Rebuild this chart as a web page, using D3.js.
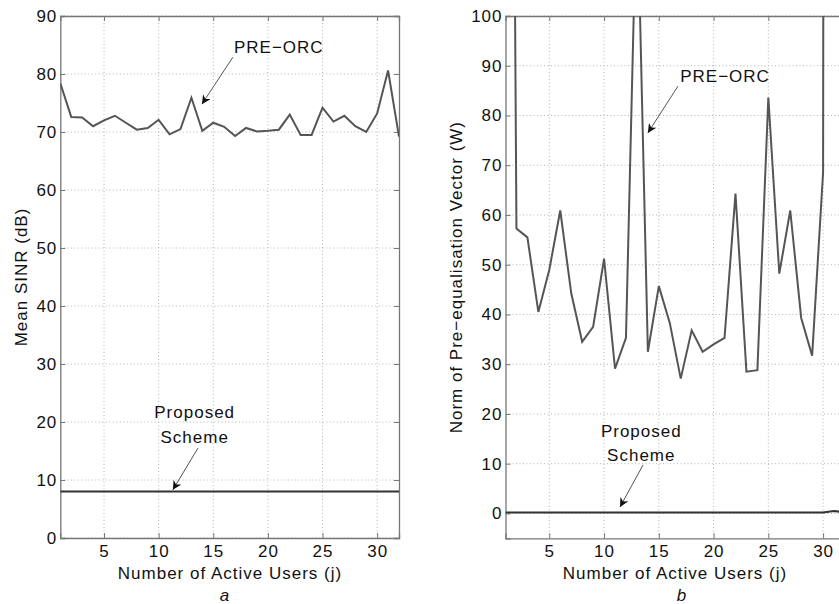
<!DOCTYPE html>
<html>
<head>
<meta charset="utf-8">
<script src="https://cdn.jsdelivr.net/npm/d3@7"></script>
<style>
    body { margin: 0; background: #fff; }
    svg text { font-family: "Liberation Sans", Arial, sans-serif; fill: #111; letter-spacing: 1px; }
</style>
</head>
<body>
<svg id="chart" width="839" height="604"></svg>
<script>
// users j = 1..32
const users = d3.range(1, 33);

// panel a: mean SINR (dB)
const sinrPreOrc = [78.4, 72.6, 72.5, 71.0, 72.0, 72.8, 71.6, 70.4, 70.7, 72.1,
    69.6, 70.5, 75.9, 70.2, 71.6, 70.9, 69.3, 70.7, 70.1, 70.2,
    70.4, 73.0, 69.5, 69.5, 74.2, 71.8, 72.8, 71.0, 70.0, 73.2,
    80.6, 69.2];
const sinrProposed = users.map(() => 8.0);

// panel b: norm of pre-equalisation vector (W)
const normPreOrc = [400, 57.3, 55.5, 40.5, 49.0, 60.9, 44.3, 34.5, 37.5, 51.2,
    29.1, 35.3, 127, 32.5, 45.7, 38.3, 27.1, 36.8, 32.5, 34.0,
    35.3, 64.3, 28.5, 28.8, 83.6, 48.2, 60.9, 39.3, 31.7, 68.6,
    2000, 900];
const normProposed = users.map(j => j === 31 ? 0.5 : 0.2);

const xTicks = [5, 10, 15, 20, 25, 30];
const yTicksA = d3.range(0, 91, 10);
const yTicksB = d3.range(0, 101, 10);

const panels = [
    {
        id: "a", x0: 60.3, x1: 399, y0: 16, y1: 538,
        yDomain: [0, 90], yTicks: yTicksA,
        preOrc: sinrPreOrc, proposed: sinrProposed,
        yLabel: "Mean SINR (dB)", yLabelX: 27, xLabelX: 230,
        // annotations in data units
        preLabel: [21, 83.6], preArrow: [[16.8, 82.9], [13.96, 74.8]],
        propLabel: [13.3, 20.7, 16.4], propArrow: [[13.6, 15.5], [11.3, 8.3]],
        letterX: 225
    },
    {
        id: "b", x0: 505.5, x1: 845, y0: 16, y1: 538.3,
        yDomain: [-5, 100], yTicks: yTicksB,
        preOrc: normPreOrc, proposed: normProposed,
        yLabel: "Norm of Pre\u2212equalisation Vector (W)", yLabelX: 462, xLabelX: 675,
        preLabel: [21.05, 86.7], preArrow: [[16.75, 85.9], [14.0, 76.5]],
        propLabel: [13.4, 15.4, 10.55], propArrow: [[13.56, 9.75], [11.46, 1.3]],
        letterX: 682
    }
];

const svg = d3.select("#chart");

const defs = svg.append("defs");
defs.append("marker")
    .attr("id", "arrowhead")
    .attr("viewBox", "0 0 10 10")
    .attr("refX", 10).attr("refY", 5)
    .attr("markerWidth", 9).attr("markerHeight", 9)
    .attr("markerUnits", "userSpaceOnUse")
    .attr("orient", "auto")
    .append("path")
    .attr("d", "M0,0 L10,5 L0,10 L3,5 Z")
    .attr("fill", "#111");

panels.forEach(p => {
    const x = d3.scaleLinear().domain([1, 32]).range([p.x0, p.x1]);
    const y = d3.scaleLinear().domain(p.yDomain).range([p.y1, p.y0]);
    const g = svg.append("g");

    defs.append("clipPath").attr("id", "clip-" + p.id)
        .append("rect")
        .attr("x", p.x0).attr("y", p.y0)
        .attr("width", p.x1 - p.x0).attr("height", p.y1 - p.y0);

    // dotted grid
    g.append("g").selectAll("line").data(xTicks).join("line")
        .attr("x1", d => x(d)).attr("x2", d => x(d))
        .attr("y1", p.y0).attr("y2", p.y1)
        .attr("stroke", "#b5b5b5").attr("stroke-width", 1)
        .attr("stroke-dasharray", "1,2.5");
    g.append("g").selectAll("line").data(p.yTicks).join("line")
        .attr("x1", p.x0).attr("x2", p.x1)
        .attr("y1", d => y(d)).attr("y2", d => y(d))
        .attr("stroke", "#b5b5b5").attr("stroke-width", 1)
        .attr("stroke-dasharray", "1,2.5");

    // axes (MATLAB style, inward ticks)
    const xAxis = g.append("g")
        .attr("transform", `translate(0,${p.y1})`)
        .call(d3.axisBottom(x).tickValues(xTicks).tickSize(-5).tickPadding(7));
    const yAxis = g.append("g")
        .attr("transform", `translate(${p.x0},0)`)
        .call(d3.axisLeft(y).tickValues(p.yTicks).tickSize(-5).tickPadding(3));
    g.append("g")
        .attr("transform", `translate(0,${p.y0})`)
        .call(d3.axisTop(x).tickValues(xTicks).tickSize(-5).tickFormat(""));
    g.append("g")
        .attr("transform", `translate(${p.x1},0)`)
        .call(d3.axisRight(y).tickValues(p.yTicks).tickSize(-5).tickFormat(""));
    g.selectAll(".domain").attr("stroke", "#777").attr("stroke-width", 1.3);
    g.selectAll(".tick line").attr("stroke", "#777");
    [xAxis, yAxis].forEach(a => a.selectAll("text")
        .attr("font-size", 17)
        .style("font-family", "'Liberation Sans', Arial, sans-serif")
        .attr("fill", "#111"));
    xAxis.selectAll("text").attr("dy", "0.71em");

    // series
    const line = d3.line().x((d, i) => x(users[i])).y(d => y(d));
    const series = g.append("g").attr("clip-path", `url(#clip-${p.id})`);
    series.append("path").datum(p.preOrc)
        .attr("d", line)
        .attr("fill", "none").attr("stroke", "#555").attr("stroke-width", 2);
    series.append("path").datum(p.proposed)
        .attr("d", line)
        .attr("fill", "none").attr("stroke", "#333").attr("stroke-width", 2);

    // annotations
    g.append("text")
        .attr("x", x(p.preLabel[0])).attr("y", y(p.preLabel[1]))
        .attr("text-anchor", "middle").attr("font-size", 17)
        .text("PRE\u2212ORC");
    g.append("line")
        .attr("x1", x(p.preArrow[0][0])).attr("y1", y(p.preArrow[0][1]))
        .attr("x2", x(p.preArrow[1][0])).attr("y2", y(p.preArrow[1][1]))
        .attr("stroke", "#555").attr("stroke-width", 1)
        .attr("marker-end", "url(#arrowhead)");
    g.append("text")
        .attr("x", x(p.propLabel[0])).attr("y", y(p.propLabel[1]))
        .attr("text-anchor", "middle").attr("font-size", 17)
        .text("Proposed");
    g.append("text")
        .attr("x", x(p.propLabel[0])).attr("y", y(p.propLabel[2]))
        .attr("text-anchor", "middle").attr("font-size", 17)
        .text("Scheme");
    g.append("line")
        .attr("x1", x(p.propArrow[0][0])).attr("y1", y(p.propArrow[0][1]))
        .attr("x2", x(p.propArrow[1][0])).attr("y2", y(p.propArrow[1][1]))
        .attr("stroke", "#555").attr("stroke-width", 1)
        .attr("marker-end", "url(#arrowhead)");

    // axis titles
    g.append("text")
        .attr("transform", `translate(${p.yLabelX},${(p.y0 + p.y1) / 2}) rotate(-90)`)
        .attr("text-anchor", "middle").attr("font-size", 17)
        .text(p.yLabel);
    g.append("text")
        .attr("x", p.xLabelX).attr("y", 579)
        .attr("text-anchor", "middle").attr("font-size", 17)
        .text("Number of Active Users (j)");
    g.append("text")
        .attr("x", p.letterX).attr("y", 601)
        .attr("text-anchor", "middle").attr("font-size", 17)
        .attr("font-style", "italic")
        .text(p.id);
});
</script>
</body>
</html>
